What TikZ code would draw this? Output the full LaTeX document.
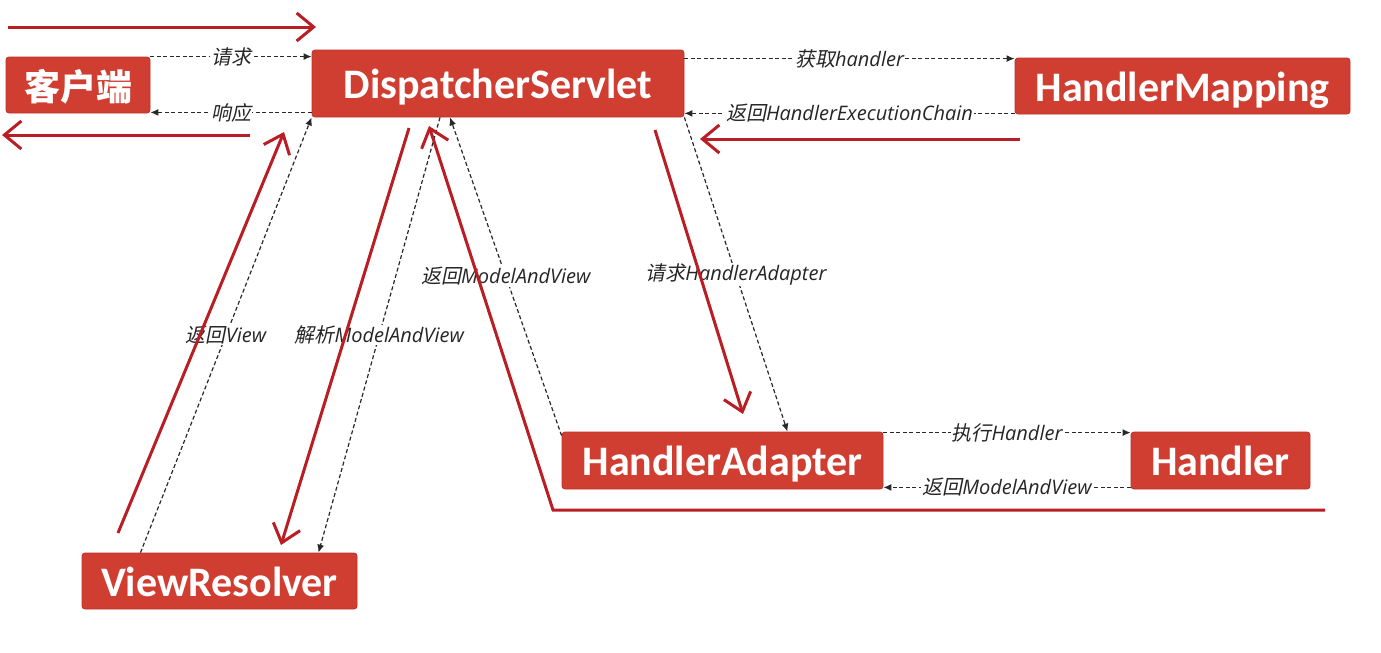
\documentclass[tikz,border=0pt]{standalone}
\usepackage{fontspec}
\setmainfont{Carlito}
\newfontfamily\zhbold{Noto Sans CJK SC Bold}
\newfontfamily\zhit{Noto Sans CJK SC}[FakeSlant=0.2]
\newfontfamily\latit{Open Sans Italic}
\usetikzlibrary{arrows.meta,calc}
\definecolor{boxfill}{RGB}{208,62,50}
\definecolor{boxline}{RGB}{188,48,40}
\definecolor{flow}{RGB}{184,30,36}
\definecolor{dash}{RGB}{40,40,40}
\newcommand{\lbl}[2]{{\zhit #1}{\latit #2}}
\tikzset{
  box/.style={draw=boxline, fill=boxfill, rounded corners=3pt, line width=0.8pt,
    text=white, font=\bfseries\fontsize{42}{42}\selectfont, inner sep=0pt, anchor=center,
    text height=33pt, text depth=3pt},
  dashflow/.style={draw=dash, line width=1.2pt, dash pattern=on 4pt off 2.5pt,
    -{Latex[length=8pt,width=7pt]}},
  lab/.style={fill=white, inner sep=1pt, text=black!85, font=\fontsize{20}{20}\selectfont},
  redflow/.style={draw=flow, line width=3pt,
    -{Straight Barb[length=17pt,width=28pt,line width=3pt]}}
}
\begin{document}
\begin{tikzpicture}[x=1pt,y=1pt]
\useasboundingbox (0,0) rectangle (1381,-653);

% nodes
\node[box, minimum width=144pt, minimum height=56pt] (client) at (78,-85) {\zhbold\fontsize{36}{36}\selectfont 客户端};
\node[box, minimum width=372pt, minimum height=67pt] (ds) at (498,-83.5) {DispatcherServlet};
\node[box, minimum width=335pt, minimum height=56pt] (hm) at (1182.5,-86) {HandlerMapping};
\node[box, minimum width=321pt, minimum height=57pt] (ha) at (722.5,-460.5) {HandlerAdapter};
\node[box, minimum width=179pt, minimum height=57pt] (hd) at (1220.5,-460.5) {Handler};
\node[box, minimum width=275pt, minimum height=56pt] (vr) at (219.5,-581) {ViewResolver};

% dashed connectors
\draw[dashflow] (client.north east) -- node[lab]{\lbl{请求}{}} (client.north east -| ds.west);
\draw[dashflow] ([yshift=1pt]client.south east -| ds.west) -- node[lab]{\lbl{响应}{}} ([yshift=1pt]client.south east);
\draw[dashflow] ([yshift=-1pt]hm.north west -| ds.east) -- node[lab]{\lbl{获取}{handler}} ([yshift=-1pt]hm.north west);
\draw[dashflow] ([yshift=1pt]hm.south west) -- node[lab]{\lbl{返回}{HandlerExecutionChain}} ([yshift=1pt]hm.south west -| ds.east);
\draw[dashflow] ([yshift=-1pt]ha.north east) -- node[lab]{\lbl{执行}{Handler}} ([yshift=-1pt]ha.north east -| hd.west);
\draw[dashflow] ([yshift=2pt]hd.south west) -- node[lab]{\lbl{返回}{ModelAndView}} ([yshift=2pt]hd.south west -| ha.east);
\draw[dashflow] (ds.south east) -- node[lab]{\lbl{请求}{HandlerAdapter}} ([xshift=65pt]ha.north);
\draw[dashflow] ([yshift=-4pt]ha.north west) -- node[lab]{\lbl{返回}{ModelAndView}} ([xshift=-48pt]ds.south);
\draw[dashflow] ([xshift=-58pt]ds.south) -- node[lab]{\lbl{解析}{ModelAndView}} ([xshift=99pt]vr.north);
\draw[dashflow] ([xshift=-79pt]vr.north) -- node[lab]{\lbl{返回}{View}} (ds.south west);

% red flow arrows
\coordinate (r1a) at (8,-27);    \coordinate (r1b) at (316,-27);
\coordinate (r2a) at (250,-135); \coordinate (r2b) at (2,-135);
\coordinate (r3a) at (1020,-139);\coordinate (r3b) at (700,-139);
\coordinate (r4a) at (655,-130); \coordinate (r4b) at (743,-414);
\coordinate (r5a) at (1325,-510);\coordinate (r5m) at (553,-510); \coordinate (r5b) at (429,-126);
\coordinate (r6a) at (409,-128); \coordinate (r6b) at (281,-545);
\coordinate (r7a) at (118,-533); \coordinate (r7b) at (284,-132);
\draw[redflow] (r1a) -- (r1b);
\draw[redflow] (r2a) -- (r2b);
\draw[redflow] (r3a) -- (r3b);
\draw[redflow] (r4a) -- (r4b);
\draw[redflow] (r5a) -- (r5m) -- (r5b);
\draw[redflow] (r6a) -- (r6b);
\draw[redflow] (r7a) -- (r7b);
\end{tikzpicture}
\end{document}
